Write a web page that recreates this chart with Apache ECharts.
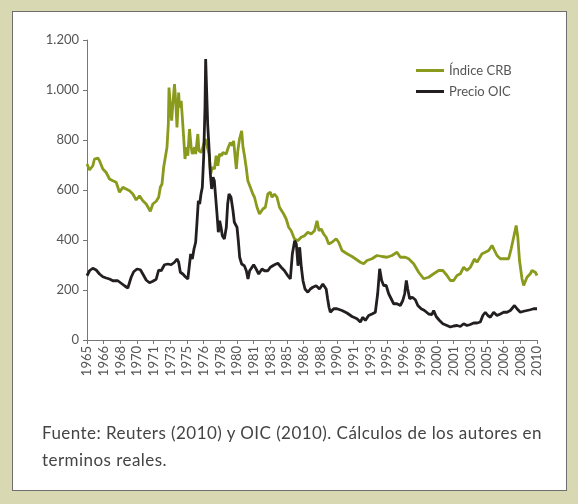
<!DOCTYPE html>
<html>
<head>
<meta charset="utf-8">
<script src="https://cdn.jsdelivr.net/npm/echarts@6/dist/echarts.min.js"></script>
<style>
  html, body { margin: 0; padding: 0; }
  body { width: 578px; height: 504px; background: #d8d9b3; position: relative; overflow: hidden; }
  .box { position: absolute; left: 12px; top: 11px; width: 553px; height: 478px; background: #fff; border: 1px solid #6e6e6e; }
  #chart { position: absolute; left: 0; top: 0; width: 578px; height: 504px; }
  .nota { position: absolute; left: 42px; top: 419px; width: 515px; font-family: Lato, "Open Sans", sans-serif; font-size: 17px; letter-spacing: 0.45px; line-height: 27px; color: #444; }
</style>
</head>
<body>
<div class="box"></div>
<div id="chart"></div>
<div class="nota">Fuente: Reuters (2010) y OIC (2010). Cálculos de los autores en terminos reales.</div>
<script>
// meses desde ene-1965, etiqueta cada 20 meses
const tickLabels = ["1965","1966","1968","1970","1971","1973","1975","1976","1978","1980","1981","1983","1985","1986",
  "1988","1990","1991","1993","1995","1996","1998","2000","2001","2003","2005","2006","2008","2010"];

// [mes, valor]
const indiceCRB = [
  [0,704],[3,680],[7,697],[9,724],[13,728],[15,717],[17,724],[19,684],[23,670],[25,664],[27,644],[31,637],
  [35,631],[39,591],[43,611],[47,604],[51,597],[55,584],[59,560],[63,577],[67,557],[71,544],[76,515],[79,544],
  [83,555],[86,571],[88,611],[90,624],[92,691],[94,731],[96,771],[97.6,864],[98.4,1010],[100,937],[101.6,877],
  [103,944],[105,1024],[106.4,957],[108,850],[110,990],[111,930],[113,957],[114.4,890],[116,810],[117.6,724],
  [119,771],[121,737],[123,844],[125,771],[126.4,744],[129,771],[130.4,744],[133,824],[134.4,757],[137,750],
  [139,771],[142,804],[144,811],[146.4,744],[148.4,664],[150.4,691],[153,684],[155,737],[157,697],[159,744],
  [161.6,737],[163,750],[167,744],[169.6,771],[172,790],[174.4,777],[176,797],[177.6,737],[179.2,684],[181,757],
  [183,804],[185.6,837],[187.2,771],[189,737],[191,691],[193,637],[196,611],[199,584],[201,571],[204,531],
  [207,504],[211,524],[214,531],[217,584],[220,591],[222,571],[225,584],[228,571],[231,531],[236,504],[239,484],
  [242,451],[245,437],[249,404],[253,397],[257,411],[261,417],[265,431],[269,424],[273,437],[276,477],[278.4,437],
  [281,444],[284,424],[287,411],[290,384],[294,391],[299,405],[302,391],[306,358],[312,345],[318,334],[322,325],
  [328,311],[332,305],[336,318],[342,325],[348,338],[354,334],[360,331],[366,338],[372,351],[376,331],[382,331],
  [386,325],[392,305],[398,271],[404,245],[410,251],[416,265],[422,278],[427,278],[432,258],[436,238],[440,238],
  [444,258],[448,265],[452,291],[456,278],[460,291],[465,324],[468,311],[474,345],[478,351],[482,358],[486,378],
  [488,365],[492,338],[496,325],[502,325],[506,325],[509,365],[512,411],[515,458],[517,411],[519,318],[522,245],
  [524,218],[528,251],[532,265],[534,278],[538,271],[540,258]
];

const precioOIC = [
  [0,257],[3,277],[7,287],[11,280],[15,264],[19,253],[23,248],[27,244],[31,237],[37,237],[41,227],[45,217],
  [49,208],[51,213],[53,251],[56,273],[60,284],[64,281],[67,264],[71,240],[75,229],[79,235],[83,243],[86,280],
  [89,277],[93,301],[97,304],[101,301],[105,311],[108,324],[110,311],[112,271],[115,264],[118,253],[121,244],
  [123,237],[124.4,344],[126.4,324],[128.4,364],[130.4,391],[132,471],[133.6,557],[135.2,544],[136.8,584],
  [138.4,611],[140,731],[141.6,931],[142.4,1124],[143.6,1117],[144.8,864],[146.4,771],[148,664],[149.6,604],
  [151.2,651],[152.8,637],[154.4,571],[156,504],[157.6,431],[159.2,477],[160.8,451],[162.4,417],[164.8,404],
  [167.2,451],[168.8,544],[170.4,584],[172.8,571],[175.2,517],[176.8,471],[178.4,477],[180,451],[181.6,397],
  [183.2,331],[185.6,304],[188.8,297],[191.2,277],[193.2,244],[195.2,277],[197.2,271],[200,301],[203,284],
  [206,264],[210,284],[213,277],[217,277],[220,291],[225,301],[229,307],[233,291],[237,277],[241,257],[244,244],
  [246.4,344],[249.2,397],[251.2,384],[253.2,297],[255.2,371],[257.2,291],[259.2,237],[261.6,204],[265,191],
  [268,204],[271,211],[275,217],[279,204],[283,224],[287,204],[288.8,164],[290.4,131],[292,111],[296,125],
  [300,125],[306,118],[312,108],[318,94],[324,85],[328,72],[331,91],[334,78],[338,98],[342,104],[346,111],
  [348.8,185],[351.2,285],[353.6,238],[356,218],[359,218],[362,185],[365,165],[368,145],[372,145],[376,138],
  [379,158],[381.2,185],[383.2,238],[384.8,205],[387.2,165],[390.4,171],[394,161],[397,138],[401,125],[405,118],
  [410,104],[414,102],[416,118],[419,94],[423,78],[427,65],[432,58],[436,52],[440,56],[444,58],[448,54],
  [452,65],[456,58],[460,62],[464,68],[468,68],[472,72],[475,98],[478,111],[481,98],[484,91],[488,111],
  [492,98],[496,104],[500,111],[504,111],[508,118],[513,138],[516,125],[520,111],[524,115],[528,118],[532,121],
  [536,125],[540,125]
];

const chart = echarts.init(document.getElementById("chart"));
const txt = "#555";
const fuente = "Lato, 'Open Sans', sans-serif";

chart.setOption({
  animation: false,
  backgroundColor: "transparent",
  grid: { left: 87, right: 41, top: 40, bottom: 164 },
  legend: {
    orient: "vertical",
    left: 411,
    top: 59,
    itemWidth: 28,
    itemHeight: 3,
    itemGap: 8,
    icon: "rect",
    textStyle: { color: txt, fontSize: 13, fontFamily: fuente },
    data: ["Índice CRB", "Precio OIC"]
  },
  xAxis: {
    type: "value",
    min: 0,
    max: 540,
    interval: 20,
    splitLine: { show: false },
    axisLine: { lineStyle: { color: "#777" } },
    axisTick: { show: true, length: 4, lineStyle: { color: "#777" } },
    axisLabel: {
      rotate: 90,
      margin: 6,
      color: txt,
      fontSize: 13,
      fontFamily: fuente,
      formatter: v => tickLabels[Math.round(v / 20)]
    }
  },
  yAxis: {
    type: "value",
    min: 0,
    max: 1200,
    interval: 200,
    splitLine: { show: false },
    axisLine: { show: true, lineStyle: { color: "#777" } },
    axisTick: { show: true, length: 4, lineStyle: { color: "#777" } },
    axisLabel: {
      margin: 8,
      color: txt,
      fontSize: 13,
      fontFamily: fuente,
      formatter: v => v.toString().replace(/\B(?=(\d{3})+(?!\d))/g, ".")
    }
  },
  series: [
    {
      name: "Índice CRB",
      type: "line",
      data: indiceCRB,
      showSymbol: false,
      color: "#8a9a1c",
      lineStyle: { width: 2.8, color: "#8a9a1c" }
    },
    {
      name: "Precio OIC",
      type: "line",
      data: precioOIC,
      showSymbol: false,
      color: "#231f20",
      lineStyle: { width: 2.8, color: "#231f20" }
    }
  ]
});
</script>
</body>
</html>
